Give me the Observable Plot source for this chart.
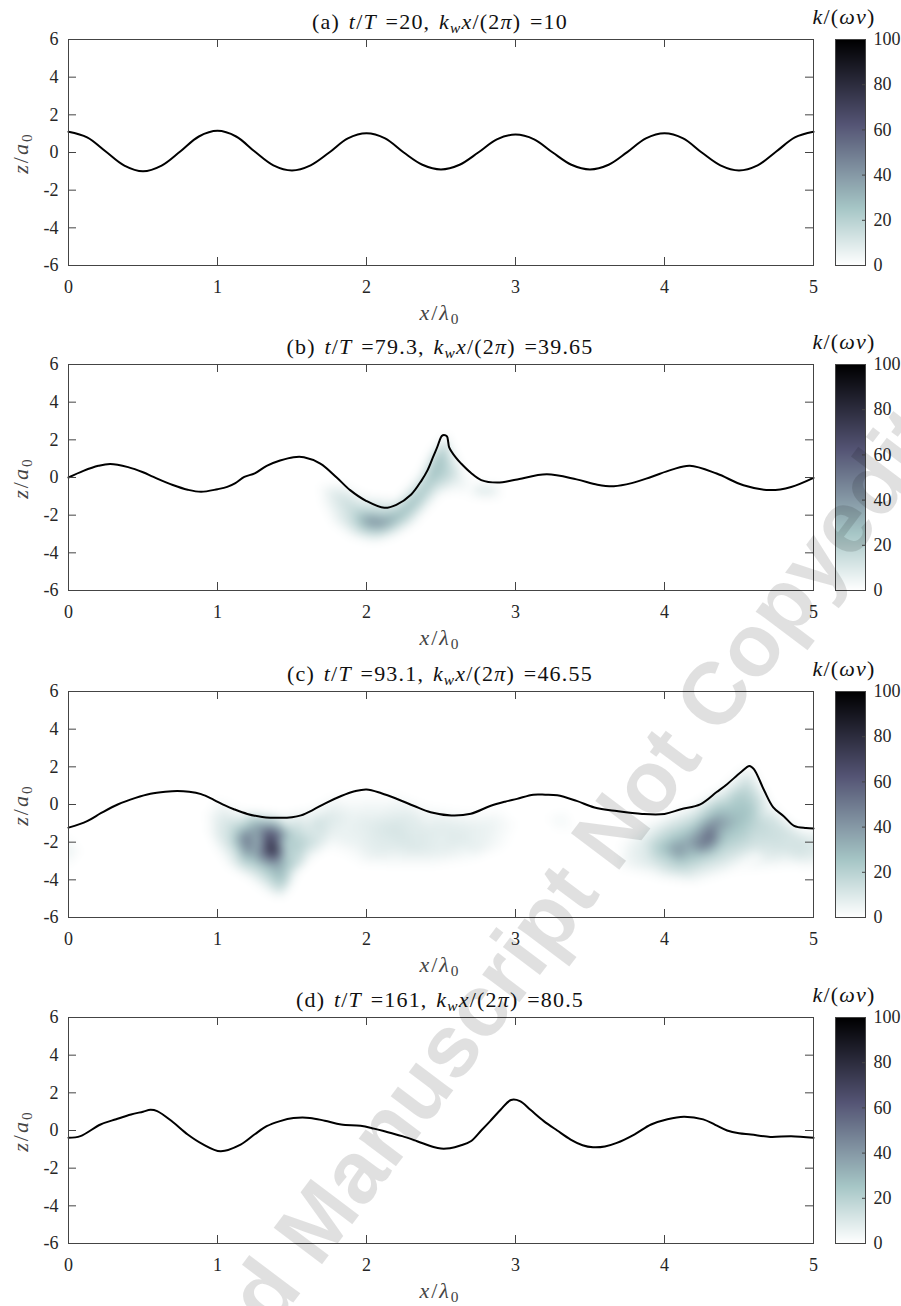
<!DOCTYPE html>
<html><head><meta charset="utf-8">
<script src="https://cdn.jsdelivr.net/npm/d3@7"></script>
<script src="https://cdn.jsdelivr.net/npm/@observablehq/plot@0.6"></script>
<style>
body{margin:0;background:#fff;}
#page{position:relative;width:901px;height:1306px;overflow:hidden;font-family:"Liberation Serif",serif;color:#262626;}
.abs{position:absolute;white-space:nowrap;}
.title{left:0;width:880px;text-align:center;font-size:22px;line-height:24px;color:#111;letter-spacing:1.2px;word-spacing:2px;}
.xlab{left:0;width:880px;text-align:center;font-size:22px;line-height:22px;color:#444;letter-spacing:2px;}
.ylab{width:100px;text-align:center;font-size:22px;line-height:24px;color:#444;letter-spacing:2px;transform:rotate(-90deg);}
.cblab{width:100px;text-align:center;font-size:22px;line-height:24px;color:#111;letter-spacing:1.2px;}
.wm{font-family:"Liberation Sans",sans-serif;font-weight:bold;font-size:88px;line-height:90px;color:rgba(0,0,0,0.12);pointer-events:none;transform-origin:50% 50%;}
sub{font-size:70%;vertical-align:-0.25em;line-height:0;}
svg{overflow:visible;}
</style></head><body><div id="page"></div>
<script>
// ---------- data ----------
const panelLetters = ["(a)", "(b)", "(c)", "(d)"];
const tValues = ["20", "79.3", "93.1", "161"];
const kwValues = ["10", "39.65", "46.55", "80.5"];
const xTicks = [0, 1, 2, 3, 4, 5];
const yTicks = [-6, -4, -2, 0, 2, 4, 6];
const cbTicks = [0, 20, 40, 60, 80, 100];
const colorStops = [0, 25, 62.5, 100];
const colorRange = ["#ffffff", "#a7c7c7", "#545474", "#000000"];
const watermark = "Accepted Manuscript Not Copyedited";

const surfA = [[0,1.1],[0.125,0.8],[0.25,0.05],[0.375,-0.7],[0.5,-1.0],[0.625,-0.7],[0.75,0.05],[0.875,0.85],[1.0,1.15],[1.125,0.85],[1.25,0.05],[1.375,-0.68],[1.5,-0.95],[1.625,-0.68],[1.75,0.0],[1.875,0.75],[2.0,1.02],[2.125,0.75],[2.25,0.0],[2.375,-0.65],[2.5,-0.9],[2.625,-0.65],[2.75,0.0],[2.875,0.7],[3.0,0.95],[3.125,0.7],[3.25,0.0],[3.375,-0.65],[3.5,-0.9],[3.625,-0.65],[3.75,0.02],[3.875,0.75],[4.0,1.02],[4.125,0.75],[4.25,0.0],[4.375,-0.68],[4.5,-0.95],[4.625,-0.68],[4.75,0.05],[4.875,0.8],[5.0,1.1]];

const surfB = [[0,0.0],[0.1,0.35],[0.2,0.62],[0.28,0.72],[0.4,0.55],[0.5,0.28],[0.57,0.03],[0.7,-0.4],[0.8,-0.65],[0.89,-0.76],[1.0,-0.62],[1.065,-0.5],[1.12,-0.3],[1.18,0.03],[1.25,0.22],[1.33,0.62],[1.42,0.9],[1.51,1.08],[1.58,1.08],[1.69,0.74],[1.8,0.0],[1.89,-0.67],[2.0,-1.25],[2.12,-1.61],[2.2,-1.45],[2.3,-0.9],[2.37,-0.15],[2.41,0.39],[2.45,1.15],[2.475,1.62],[2.49,1.95],[2.505,2.2],[2.52,2.26],[2.54,2.18],[2.548,1.9],[2.555,1.6],[2.6,1.05],[2.635,0.74],[2.7,0.25],[2.77,-0.14],[2.88,-0.27],[3.0,-0.12],[3.21,0.17],[3.41,-0.1],[3.55,-0.38],[3.66,-0.46],[3.78,-0.3],[3.91,0.03],[4.05,0.42],[4.17,0.62],[4.35,0.21],[4.53,-0.41],[4.71,-0.67],[4.85,-0.5],[5.0,-0.02]];

const surfC = [[0,-1.23],[0.125,-0.88],[0.22,-0.45],[0.33,0.0],[0.45,0.35],[0.55,0.57],[0.65,0.68],[0.73,0.72],[0.81,0.68],[0.89,0.55],[0.975,0.25],[1.05,-0.05],[1.11,-0.25],[1.2,-0.5],[1.3,-0.66],[1.42,-0.71],[1.5,-0.68],[1.56,-0.58],[1.65,-0.25],[1.72,0.05],[1.83,0.45],[1.92,0.7],[2.0,0.8],[2.1,0.6],[2.21,0.28],[2.32,-0.08],[2.43,-0.41],[2.57,-0.58],[2.7,-0.49],[2.83,-0.08],[2.93,0.15],[3.01,0.3],[3.12,0.52],[3.2,0.52],[3.28,0.49],[3.41,0.19],[3.53,-0.16],[3.68,-0.35],[3.85,-0.5],[4.0,-0.5],[4.11,-0.25],[4.24,0.01],[4.35,0.66],[4.42,1.08],[4.51,1.7],[4.57,2.05],[4.6,1.88],[4.67,0.73],[4.73,-0.15],[4.8,-0.62],[4.87,-1.13],[4.95,-1.25],[5.0,-1.27]];

const surfD = [[0,-0.39],[0.08,-0.3],[0.215,0.32],[0.32,0.6],[0.42,0.85],[0.5,1.0],[0.55,1.1],[0.595,1.03],[0.7,0.45],[0.8,-0.21],[0.9,-0.72],[1.02,-1.1],[1.155,-0.75],[1.25,-0.2],[1.33,0.23],[1.42,0.5],[1.51,0.66],[1.62,0.67],[1.72,0.52],[1.83,0.32],[1.96,0.25],[2.05,0.1],[2.12,-0.04],[2.24,-0.3],[2.34,-0.57],[2.45,-0.88],[2.5,-0.96],[2.56,-0.94],[2.63,-0.8],[2.7,-0.57],[2.77,0.0],[2.83,0.5],[2.9,1.1],[2.97,1.62],[3.03,1.56],[3.1,1.1],[3.19,0.5],[3.28,0.0],[3.37,-0.48],[3.45,-0.78],[3.52,-0.89],[3.6,-0.85],[3.68,-0.66],[3.8,-0.2],[3.91,0.32],[4.02,0.6],[4.13,0.73],[4.26,0.59],[4.34,0.3],[4.42,0.0],[4.5,-0.15],[4.58,-0.21],[4.71,-0.34],[4.85,-0.3],[5.0,-0.39]];

// turbulent kinetic energy samples [x/λ0, z/a0, k/(ων)]
const frameZeros = [[0,-6,0],[2.5,-6,0],[5,-6,0],[0,6,0],[2.5,6,0],[5,6,0],[0,0,0],[5,0,0]];
const fieldB = [
 [1.76,-0.7,8],[1.85,-1.2,14],[1.9,-1.6,16],[1.95,-1.9,22],[2.0,-1.7,15],[2.0,-2.3,38],[2.05,-2.35,45],[2.1,-2.4,42],[2.15,-2.3,38],[2.1,-1.95,20],[2.2,-2.1,30],[2.25,-1.8,28],[2.3,-1.4,28],[2.35,-1.0,26],[2.4,-0.5,25],[2.43,0.0,26],[2.46,0.5,28],[2.49,1.0,28],[2.51,1.5,22],[2.0,-2.8,20],[2.1,-2.9,18],[1.9,-2.4,14],[1.82,-1.9,8],[2.2,-2.6,15],[2.57,0.6,14],[2.6,0.1,12],[2.62,-0.3,6],[2.76,-0.6,12],[2.84,-0.7,10],
 [1.68,-0.4,0],[1.7,-1.5,0],[1.75,-2.3,0],[1.88,-3.1,0],[2.05,-3.45,0],[2.2,-3.1,0],[2.32,-2.5,0],[2.42,-1.6,0],[2.5,-0.9,0],[2.56,-0.8,0],[2.67,-0.95,0],[2.78,-1.15,0],[2.9,-1.1,0],[2.97,-0.7,0],[2.9,-0.3,0],[2.75,-0.25,0],[2.66,0.4,0],[2.6,1.3,0],[2.54,2.4,0],[2.42,1.3,0],[2.35,0.2,0],[2.2,-1.1,0],[2.0,-0.9,0],[1.85,-0.3,0]
];
const fieldC = [
 [0.0,-2.5,6],[0.03,-2.4,4],[0.09,-2.5,0],[0.0,-1.6,0],[0.0,-3.4,0],
 [1.0,-0.9,8],[1.0,-1.6,8],[1.07,-1.0,12],[1.08,-1.9,14],[1.12,-2.6,12],[1.15,-1.4,25],[1.19,-1.7,52],[1.21,-2.3,50],[1.18,-3.1,18],[1.23,-1.4,38],[1.24,-2.7,30],[1.265,-2.0,30],[1.28,-3.3,20],[1.3,-1.25,42],[1.33,-1.5,62],[1.36,-2.0,75],[1.37,-2.4,88],[1.39,-2.8,60],[1.41,-1.6,55],[1.31,-2.6,55],[1.41,-3.3,35],[1.43,-3.9,28],[1.43,-4.4,18],[1.45,-2.0,20],[1.47,-2.6,18],[1.5,-1.6,20],[1.53,-2.4,22],[1.55,-3.1,15],[1.6,-1.3,10],[1.62,-2.0,16],[1.68,-1.0,14],[1.7,-1.8,10],[1.75,-0.7,10],[1.78,-1.5,6],
 [0.92,-0.4,0],[0.93,-1.4,0],[0.98,-2.3,0],[1.06,-3.2,0],[1.2,-3.9,0],[1.33,-4.7,0],[1.43,-5.0,0],[1.5,-4.3,0],[1.54,-3.6,0],[1.63,-2.9,0],[1.74,-2.4,0],[1.0,0.4,0],[1.2,-0.3,0],[1.4,-0.5,0],[1.6,-0.2,0],[1.8,0.6,0],
 [1.92,-0.5,5],[2.0,-1.0,8],[2.1,-1.5,10],[2.18,-1.3,12],[2.2,-2.2,9],[2.3,-0.6,8],[2.32,-2.3,10],[2.4,-1.5,9],[2.5,-2.5,7],[2.52,-1.1,8],[2.61,-1.9,9],[2.7,-1.2,7],[2.75,-2.4,6],[2.85,-1.0,5],[2.05,-2.6,7],[1.95,-2.0,6],[1.86,-1.2,6],
 [1.85,-2.7,0],[1.95,-3.2,0],[2.2,-3.3,0],[2.45,-3.3,0],[2.7,-3.0,0],[2.95,-2.2,0],[3.02,-1.0,0],[2.9,-0.2,0],[2.65,-0.3,0],[2.4,0.0,0],[2.2,0.6,0],[2.0,0.6,0],
 [3.3,-0.8,4],[3.2,-0.6,0],[3.4,-1.5,0],[3.35,-0.3,0],[3.25,-1.3,0],
 [3.78,-2.6,6],[3.85,-2.0,8],[3.9,-3.0,10],[3.95,-1.3,8],[3.98,-2.3,25],[4.05,-1.6,20],[4.08,-2.5,42],[4.1,-3.1,22],[4.15,-2.0,35],[4.2,-0.8,15],[4.2,-2.7,25],[4.22,-3.5,10],[4.26,-2.2,50],[4.28,-1.4,45],[4.3,-1.7,60],[4.33,-1.0,45],[4.36,-0.5,30],[4.33,-2.6,20],[4.4,-2.0,22],[4.4,-3.0,10],[4.45,-0.2,25],[4.47,0.4,22],[4.5,-0.8,28],[4.52,-1.5,22],[4.55,0.9,18],[4.57,-0.2,25],[4.6,-2.2,12],[4.62,-1.0,18],[4.65,0.2,12],[4.7,-1.6,15],[4.75,-0.8,12],[4.8,-2.3,12],[4.85,-1.5,12],[4.9,-2.6,12],[4.95,-2.0,12],[5.0,-2.5,10],[5.0,-1.8,8],[4.7,-2.8,8],
 [3.68,-3.4,0],[3.7,-2.0,0],[3.85,-1.0,0],[4.0,-0.55,0],[4.2,0.1,0],[4.38,0.95,0],[4.5,1.85,0],[4.58,2.2,0],[4.65,1.2,0],[4.72,0.1,0],[4.8,-0.6,0],[4.9,-1.15,0],[5.0,-1.3,0],[5.0,-3.4,0],[4.85,-3.3,0],[4.63,-2.8,0],[4.45,-3.6,0],[4.2,-4.2,0],[3.95,-3.9,0]
];

const panelTops = [39, 364, 691, 1017];
const surfaces = [surfA, surfB, surfC, surfD];
const fields = [null, fieldB, fieldC, null];

// ---------- drawing ----------
const H = 226, MT = 10, MB = 40, ML = 68, MR = 17, WMAIN = 830;
const W = WMAIN - ML - MR;
const FONT = "'Liberation Serif', serif";
const colorOpts = {type: "linear", domain: colorStops, range: colorRange, interpolate: "rgb", clamp: true};
const fmt = d => String(d);
const axisStroke = "#444";
const page = document.getElementById("page");

function addDiv(cls, html, style) {
  const d = document.createElement("div");
  d.className = "abs " + cls;
  d.innerHTML = html;
  Object.assign(d.style, style);
  page.appendChild(d);
  return d;
}

panelTops.forEach((T, i) => {
  const marks = [];
  if (fields[i]) {
    marks.push(Plot.raster(fields[i].concat(frameZeros), {
      x: d => d[0], y: d => d[1], fill: d => d[2],
      interpolate: "barycentric", blur: 4, x1: 0, x2: 5, y1: -6, y2: 6
    }));
  }
  marks.push(Plot.line(surfaces[i], {x: d => d[0], y: d => d[1], curve: "catmull-rom", stroke: "#000", strokeWidth: 2}));
  marks.push(Plot.frame({stroke: axisStroke}));
  marks.push(Plot.tickX(xTicks, {x: d => d, insetTop: H - 8, stroke: axisStroke}));
  marks.push(Plot.tickX(xTicks, {x: d => d, insetBottom: H - 8, stroke: axisStroke}));
  marks.push(Plot.tickY(yTicks, {y: d => d, insetRight: W - 8, stroke: axisStroke}));
  marks.push(Plot.tickY(yTicks, {y: d => d, insetLeft: W - 8, stroke: axisStroke}));
  marks.push(Plot.axisX({anchor: "bottom", ticks: xTicks, tickSize: 0, tickPadding: 15, tickFormat: fmt, label: null}));
  marks.push(Plot.axisY({anchor: "left", ticks: yTicks, tickSize: 0, tickPadding: 10, tickFormat: fmt, label: null}));

  const main = Plot.plot({
    width: WMAIN, height: H + MT + MB,
    marginTop: MT, marginBottom: MB, marginLeft: ML, marginRight: MR,
    x: {domain: [0, 5], label: null},
    y: {domain: [-6, 6], label: null},
    color: colorOpts,
    style: {fontFamily: FONT, fontSize: "18px", color: "#262626", background: "transparent", overflow: "visible"},
    marks
  });
  main.style.position = "absolute";
  main.style.left = "0px";
  main.style.top = (T - MT) + "px";
  page.appendChild(main);

  const cb = Plot.plot({
    width: 81, height: H + MT + MB,
    marginTop: MT, marginBottom: MB, marginLeft: 15, marginRight: 36,
    x: {domain: [0, 1], axis: null},
    y: {domain: [0, 100], label: null},
    color: colorOpts,
    style: {fontFamily: FONT, fontSize: "18px", color: "#262626", background: "transparent", overflow: "visible"},
    marks: [
      Plot.raster({fill: (x, y) => y, x1: 0, x2: 1, y1: 0, y2: 100}),
      Plot.frame({stroke: axisStroke}),
      Plot.tickY(cbTicks, {y: d => d, insetLeft: 27, stroke: axisStroke}),
      Plot.axisY({anchor: "right", ticks: cbTicks, tickSize: 0, tickPadding: 8, tickFormat: fmt, label: null})
    ]
  });
  cb.style.position = "absolute";
  cb.style.left = "820px";
  cb.style.top = (T - MT) + "px";
  page.appendChild(cb);

  addDiv("title", `${panelLetters[i]} <i>t</i>/<i>T</i> =${tValues[i]}, <i>k<sub>w</sub>x</i>/(2<i>π</i>) =${kwValues[i]}`, {top: (T - 17 - 12) + "px"});
  addDiv("xlab", `<i>x</i>/<i>λ</i><sub>0</sub>`, {top: (T + 274 - 11) + "px"});
  addDiv("ylab", `<i>z</i>/<i>a</i><sub>0</sub>`, {left: (21 - 50) + "px", top: (T + 114 - 12) + "px"});
  addDiv("cblab", `<i>k</i>/(<i>ων</i>)`, {left: (844 - 50) + "px", top: (T - 22 - 12) + "px"});
});

// watermark overlay (centred on its middle, rotated)
const wm = addDiv("wm", watermark, {});
const wmW = wm.offsetWidth, wmH = wm.offsetHeight;
wm.style.left = (512 - wmW / 2) + "px";
wm.style.top = (962 - wmH / 2) + "px";
wm.style.transform = "rotate(-53deg)";
</script></body></html>
